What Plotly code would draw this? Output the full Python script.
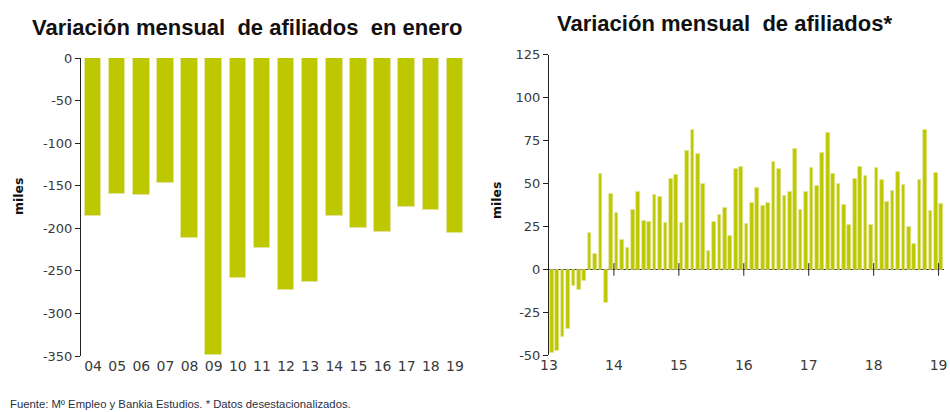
import plotly.graph_objects as go

# ---- Data ----
jan_years = ["04", "05", "06", "07", "08", "09", "10", "11", "12", "13", "14", "15", "16", "17", "18", "19"]
jan_values = [-186, -160, -161, -147, -211, -349, -258, -223, -272, -263, -185, -200, -204, -175, -178, -205]
jan_ticks = [0, -50, -100, -150, -200, -250, -300, -350]

year_labels = ["13", "14", "15", "16", "17", "18", "19"]
monthly_values = [
    -48.5, -47.4, -39.2, -34.6, -9.7, -11.7, -6.6, 21.4, 9.3, 55.9, -19.4, 44.3,   # 2013
    32.8, 17.5, 12.4, 34.8, 45.0, 28.3, 27.8, 43.3, 42.5, 27.2, 52.6, 55.3,        # 2014
    27.2, 69.3, 81.4, 67.4, 50.1, 10.7, 27.8, 31.7, 36.1, 19.4, 58.4, 59.6,        # 2015
    26.6, 38.6, 47.6, 36.9, 38.6, 62.9, 58.4, 42.7, 45.0, 70.1, 35.0, 45.0,        # 2016
    59.2, 48.9, 68.0, 79.4, 55.9, 50.1, 37.7, 25.8, 52.8, 59.6, 54.6, 25.8,        # 2017
    59.2, 52.0, 39.2, 45.6, 57.1, 49.5, 24.7, 15.1, 52.0, 81.4, 34.2, 56.5,        # 2018
    38.1,                                                                          # 2019
]
monthly_ticks = [125, 100, 75, 50, 25, 0, -25, -50]

title_left = "Variación mensual  de afiliados  en enero"
title_right = "Variación mensual  de afiliados*"
y_title = "miles"
footnote = "Fuente: Mº Empleo y Bankia Estudios. * Datos desestacionalizados."

BAR = "#bdc800"
EDGE = "#e2e59a"
TXT = "#3a3a3a"
TICKFONT = dict(family="DejaVu Sans, Verdana, sans-serif", size=13, color=TXT)
TITLEFONT = dict(family="Liberation Sans, Arial, sans-serif", size=22, color="#111111")
YTITLEFONT = dict(family="DejaVu Sans, sans-serif", size=12.5, color="#111111")

W, H = 950, 412
def px_x(a, b):
    return [a / W, b / W]
def px_y(top, bottom):
    return [1 - bottom / H, 1 - top / H]

fig = go.Figure()

# Left: January changes
fig.add_trace(go.Bar(
    x=list(range(len(jan_years))), y=jan_values, width=0.68,
    marker=dict(color=BAR, line=dict(color=EDGE, width=1)),
    xaxis="x", yaxis="y", showlegend=False, hoverinfo="y",
))

# Right: monthly changes
month_pos = [i + 0.5 for i in range(len(monthly_values))]
fig.add_trace(go.Bar(
    x=month_pos, y=monthly_values, width=0.68,
    marker=dict(color=BAR, line=dict(color=EDGE, width=0.6)),
    xaxis="x2", yaxis="y2", showlegend=False, hoverinfo="y",
))

# year-boundary tick marks on zero line (right chart)
year_ticks = [12 * i for i in range(len(year_labels))]
fig.add_trace(go.Scatter(
    x=year_ticks[1:], y=[0] * (len(year_ticks) - 1), mode="markers",
    marker=dict(symbol="line-ns", size=9, line=dict(color="#222222", width=1)),
    xaxis="x2", yaxis="y2", showlegend=False, hoverinfo="skip",
))

def fmt(v):
    return str(v)  # plain hyphen-minus

fig.update_layout(
    width=W, height=H,
    margin=dict(l=0, r=0, t=0, b=0, autoexpand=False),
    paper_bgcolor="white", plot_bgcolor="white",
    bargap=0,
    xaxis=dict(
        domain=px_x(81, 467), range=[-0.5, len(jan_years) - 0.5],
        tickmode="array", tickvals=list(range(len(jan_years))), ticktext=jan_years,
        showline=False, ticks="", showgrid=False, zeroline=False, automargin=False,
        tickfont=dict(family=TICKFONT["family"], size=14, color=TXT),
        side="bottom", anchor="y",
    ),
    xaxis3=dict(
        overlaying="x", side="top", anchor="y",
        range=[-0.5, len(jan_years) - 0.5],
        tickmode="array", tickvals=[i + 0.5 for i in range(len(jan_years) - 1)],
        ticks="inside", ticklen=3, tickcolor="#222222", automargin=False,
        showticklabels=False, showline=True, linecolor="#222222", linewidth=1,
        showgrid=False, zeroline=False,
    ),
    yaxis=dict(
        domain=px_y(58, 356), range=[-350, 0],
        tickmode="array", tickvals=jan_ticks, ticktext=[fmt(v) for v in jan_ticks],
        showline=True, linecolor="#222222", linewidth=1,
        ticks="outside", ticklen=5, tickcolor="#222222", automargin=False,
        showgrid=False, zeroline=False, tickfont=TICKFONT,
        anchor="x",
    ),
    xaxis2=dict(
        domain=px_x(549, 944), range=[0, len(monthly_values)],
        tickmode="array", tickvals=year_ticks, ticktext=year_labels,
        showline=False, ticks="", showgrid=False, zeroline=False, automargin=False,
        tickfont=dict(family=TICKFONT["family"], size=14, color=TXT),
        anchor="y2",
    ),
    yaxis2=dict(
        domain=px_y(54.7, 355.3), range=[-50, 125],
        tickmode="array", tickvals=monthly_ticks, ticktext=[fmt(v) for v in monthly_ticks],
        showline=True, linecolor="#222222", linewidth=1,
        ticks="outside", ticklen=5, tickcolor="#222222", automargin=False,
        showgrid=False, zeroline=True, zerolinecolor="#222222", zerolinewidth=1,
        tickfont=TICKFONT,
        anchor="x2",
    ),
    annotations=[
        dict(text="<b>" + title_left + "</b>", x=30 / W, y=1 - 28 / H, xref="paper", yref="paper",
             xanchor="left", yanchor="middle", showarrow=False, font=TITLEFONT),
        dict(text="<b>" + title_right + "</b>", x=555 / W, y=1 - 24 / H, xref="paper", yref="paper",
             xanchor="left", yanchor="middle", showarrow=False, font=TITLEFONT),
        dict(text="<b>" + y_title + "</b>", x=18 / W, y=1 - 196 / H, xref="paper", yref="paper",
             xanchor="center", yanchor="middle", textangle=-90, showarrow=False, font=YTITLEFONT),
        dict(text="<b>" + y_title + "</b>", x=496 / W, y=1 - 200 / H, xref="paper", yref="paper",
             xanchor="center", yanchor="middle", textangle=-90, showarrow=False, font=YTITLEFONT),
        dict(text=footnote, x=8 / W, y=1 - 404 / H, xref="paper", yref="paper",
             xanchor="left", yanchor="middle", showarrow=False,
             font=dict(family="Liberation Sans, Arial, sans-serif", size=11.3, color="#2a2f45")),
    ],
)

fig.write_html(
    "out.html",
    config={"displayModeBar": False},
    post_script="document.body.style.margin='0';document.body.style.overflow='hidden';",
)
